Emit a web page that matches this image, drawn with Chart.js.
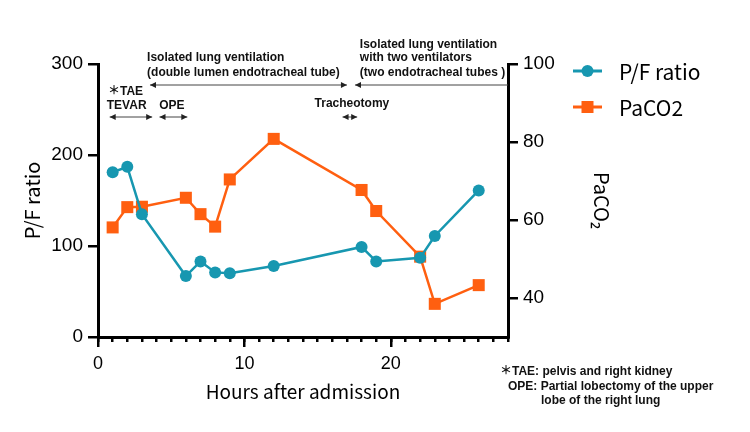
<!DOCTYPE html>
<html>
<head>
<meta charset="utf-8">
<script src="https://cdn.jsdelivr.net/npm/chart.js@4.4.1/dist/chart.umd.min.js"></script>
<style>
  html, body { margin: 0; padding: 0; background: #fff; }
  #wrap { width: 750px; height: 432px; }
</style>
</head>
<body>
<div id="wrap"><canvas id="chart" width="750" height="432"></canvas></div>
<script>
// hours after admission and measured values
const hours = [1, 2, 3, 6, 7, 8, 9, 12, 18, 19, 22, 23, 26];
const pfRatio = [181, 187, 135, 67, 83, 71, 70, 78, 99, 83, 87, 111, 161];
const paco2 = [58.1, 63.3, 63.4, 65.7, 61.5, 58.3, 70.4, 80.8, 67.7, 62.3, 50.6, 38.5, 43.3];
const seriesNames = ['P/F ratio', 'PaCO2'];
const xTicks = [0, 10, 20];
const leftTicks = [0, 100, 200, 300];
const rightTicks = [40, 60, 80, 100];

const teal = '#1797b0';
const orange = '#ff5f10';
const jpFont = "'Noto Sans CJK JP', 'Noto Sans', sans-serif";
const tickFont = "'Liberation Sans', Arial, sans-serif";
const noteFont = "bold 12px 'Liberation Sans', Arial, 'Noto Sans CJK JP', sans-serif";

// event spans (hours) drawn as double arrows above the plot
const spans = [
  { from: 0.8, to: 3.7, y: 117, head: 'both' },
  { from: 4.2, to: 6.1, y: 117, head: 'both' },
  { from: 16.7, to: 17.7, y: 117, head: 'both' },
  { from: 3.55, to: 17.0, y: 85, head: 'both' },
  { from: 17.55, to: 28, y: 85, head: 'left' }
];
const labels = [
  { at: 0.68, y: 92, text: '＊TAE', align: 'left' },
  { at: 0.6, y: 106, text: 'TEVAR', align: 'left' },
  { at: 5.05, y: 106, text: 'OPE', align: 'center' },
  { at: 17.34, y: 104, text: 'Tracheotomy', align: 'center' },
  { at: 3.35, y: 58, text: 'Isolated lung ventilation', align: 'left' },
  { at: 3.35, y: 73, text: '(double lumen endotracheal tube)', align: 'left' },
  { at: 17.88, y: 45, text: 'Isolated lung ventilation', align: 'left' },
  { at: 17.88, y: 58, text: 'with two ventilators', align: 'left' },
  { at: 17.88, y: 73, text: '(two endotracheal tubes )', align: 'left' }
];
const footnotes = [
  { x: 500, y: 372, text: '＊TAE: pelvis and right kidney' },
  { x: 508, y: 387, text: 'OPE: Partial lobectomy of the upper' },
  { x: 541, y: 401, text: 'lobe of the right lung' }
];

function arrowHead(ctx, x, y, dir) {
  ctx.beginPath();
  ctx.moveTo(x, y);
  ctx.lineTo(x - dir * 6, y - 3);
  ctx.lineTo(x - dir * 6, y + 3);
  ctx.closePath();
  ctx.fill();
}

const extras = {
  id: 'extras',
  afterDraw(chart) {
    const ctx = chart.ctx;
    const xs = chart.scales.x;
    ctx.save();

    // x tick labels at the major ticks
    ctx.fillStyle = '#000';
    ctx.font = '18px ' + tickFont;
    ctx.textAlign = 'center';
    ctx.textBaseline = 'top';
    xTicks.forEach(v => ctx.fillText(String(v), xs.getPixelForValue(v), xs.top + 18));

    // arrows
    ctx.strokeStyle = '#444';
    ctx.fillStyle = '#222';
    ctx.lineWidth = 1;
    spans.forEach(s => {
      const x1 = xs.getPixelForValue(s.from);
      const x2 = xs.getPixelForValue(s.to);
      ctx.beginPath();
      ctx.moveTo(x1, s.y);
      ctx.lineTo(x2, s.y);
      ctx.stroke();
      arrowHead(ctx, x1, s.y, -1);
      if (s.head === 'both') arrowHead(ctx, x2, s.y, 1);
    });
    // annotation text
    ctx.font = noteFont;
    ctx.fillStyle = '#111';
    ctx.textBaseline = 'middle';
    labels.forEach(l => {
      ctx.textAlign = l.align;
      ctx.fillText(l.text, xs.getPixelForValue(l.at), l.y);
    });
    ctx.textAlign = 'left';
    footnotes.forEach(f => ctx.fillText(f.text, f.x, f.y));

    // legend
    const items = [
      { name: seriesNames[0], color: teal, y: 71, shape: 'circle' },
      { name: seriesNames[1], color: orange, y: 107, shape: 'rect' }
    ];
    items.forEach(it => {
      ctx.strokeStyle = it.color;
      ctx.fillStyle = it.color;
      ctx.lineWidth = 3;
      ctx.beginPath();
      ctx.moveTo(573, it.y);
      ctx.lineTo(602, it.y);
      ctx.stroke();
      ctx.beginPath();
      if (it.shape === 'circle') ctx.arc(587.5, it.y, 6, 0, Math.PI * 2);
      else ctx.rect(581.5, it.y - 6, 12, 12);
      ctx.fill();
      ctx.fillStyle = '#000';
      ctx.font = '21px ' + jpFont;
      ctx.fillText(it.name, 619, it.y + 1);
    });
    ctx.restore();
  }
};

Chart.defaults.font.family = jpFont;
Chart.defaults.color = '#000';

const axisBorder = { color: '#000', width: 3 };
const tickGrid = (len) => ({ drawOnChartArea: false, color: '#000', lineWidth: 2.5, tickLength: len });
const fixedTicks = (vals) => (s) => { s.ticks = vals.map(v => ({ value: v })); };

new Chart(document.getElementById('chart').getContext('2d'), {
  type: 'line',
  data: {
    datasets: [
      {
        label: seriesNames[0],
        data: hours.map((h, i) => ({ x: h, y: pfRatio[i] })),
        yAxisID: 'y',
        borderColor: teal,
        backgroundColor: teal,
        borderWidth: 2.5,
        pointStyle: 'circle',
        pointRadius: 6,
        pointBorderWidth: 0,
        tension: 0
      },
      {
        label: seriesNames[1],
        data: hours.map((h, i) => ({ x: h, y: paco2[i] })),
        yAxisID: 'y2',
        borderColor: orange,
        backgroundColor: orange,
        borderWidth: 2.5,
        pointStyle: 'rect',
        pointRadius: 8.5,
        pointBorderWidth: 0,
        tension: 0
      }
    ]
  },
  options: {
    responsive: false,
    animation: false,
    layout: { padding: { top: 64, right: 122, bottom: 15, left: 0 } },
    plugins: { legend: { display: false }, tooltip: { enabled: false } },
    scales: {
      x: {
        type: 'linear',
        position: 'bottom',
        weight: 1,
        min: 0,
        max: 28,
        border: axisBorder,
        grid: tickGrid(10),
        afterBuildTicks: fixedTicks(xTicks),
        ticks: { autoSkip: false, maxRotation: 0, padding: 8, font: { family: tickFont, size: 18 }, callback: () => '' },
        title: { display: true, text: 'Hours after admission', font: { size: 19 }, padding: { top: 0, bottom: 14 } },
        afterFit: s => { s.height = 80; }
      },
      xm: {
        type: 'linear',
        position: 'bottom',
        weight: 0,
        min: 0,
        max: 28,
        border: axisBorder,
        grid: tickGrid(5),
        ticks: { stepSize: 1, autoSkip: false, callback: () => '' },
        afterFit: s => { s.height = 0; }
      },
      y: {
        position: 'left',
        min: 0,
        max: 300,
        border: axisBorder,
        grid: tickGrid(10),
        afterBuildTicks: fixedTicks(leftTicks),
        ticks: { padding: 5, font: { family: tickFont, size: 19 } },
        title: { display: true, text: 'P/F ratio', font: { size: 20 }, padding: { top: 20, bottom: 0 } },
        afterFit: s => { s.width = 98; }
      },
      y2: {
        position: 'right',
        min: 30,
        max: 100,
        border: axisBorder,
        grid: tickGrid(10),
        afterBuildTicks: fixedTicks(rightTicks),
        ticks: { padding: 5, font: { family: tickFont, size: 19 } },
        title: { display: true, text: 'PaCO₂', font: { size: 20 }, padding: { top: 14, bottom: 0 } },
        afterFit: s => { s.width = 120; }
      }
    }
  },
  plugins: [extras]
});
</script>
</body>
</html>
